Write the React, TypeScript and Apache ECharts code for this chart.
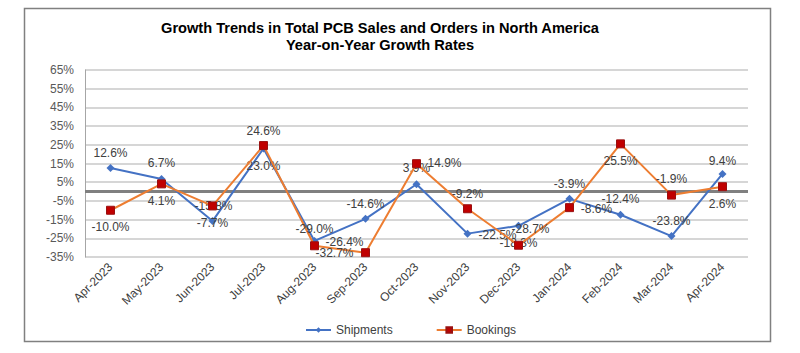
import React, { useEffect, useRef } from "react";
import * as echarts from "echarts";

const categories = [
  "Apr-2023", "May-2023", "Jun-2023", "Jul-2023", "Aug-2023", "Sep-2023", "Oct-2023",
  "Nov-2023", "Dec-2023", "Jan-2024", "Feb-2024", "Mar-2024", "Apr-2024",
];
const shipments = [12.6, 6.7, -15.8, 23.0, -26.4, -14.6, 3.9, -22.5, -18.3, -3.9, -12.4, -23.8, 9.4];
const bookings = [-10.0, 4.1, -7.7, 24.6, -29.0, -32.7, 14.9, -9.2, -28.7, -8.6, 25.5, -1.9, 2.6];
const yMin = -35;
const yMax = 65;
const yLabelStep = 10;

const titleLines = ["Growth Trends in Total PCB Sales and Orders in North America", "Year-on-Year Growth Rates"];

// label placement (offsets from each point) — styling only
const shipLabelOffsets = [[0, -15], [0, -16], [1, -15], [0, 17], [30, 1], [0, -15], [0, -16], [30, 1], [0, 17], [0, -15], [0, -16], [0, -15], [0, -13]];
const bookLabelOffsets = [[0, 17], [0, 17], [0, 17], [0, -15], [0, -17], [-31, 0], [28, -1], [0, -15], [12, -16], [27, 1], [0, 17], [0, -16], [0, 17]];

const FONT = "'Liberation Sans', Arial, sans-serif";

export default function App() {
  const ref = useRef<HTMLDivElement>(null);
  useEffect(() => {
    document.body.style.margin = "0";
    const chart = echarts.init(ref.current!, null, { renderer: "svg" });
    const mkData = (vals: number[], offs: number[][]) =>
      vals.map((v, i) => ({
        value: v,
        label: {
          show: true,
          position: "inside",
          offset: offs[i],
          formatter: v.toFixed(1) + "%",
        },
      }));
    chart.setOption({
      animation: false,
      textStyle: { fontFamily: FONT },
      graphic: [
        {
          type: "rect",
          shape: { x: 24.5, y: 8.5, width: 746, height: 333 },
          style: { fill: "none", stroke: "#808080", lineWidth: 1.5 },
          silent: true,
        },
        {
          type: "text",
          x: 380,
          y: 28,
          style: {
            text: titleLines[0],
            textAlign: "center",
            textVerticalAlign: "middle",
            font: `bold 14.6px ${FONT}`,
            fill: "#000",
          },
        },
        {
          type: "text",
          x: 380,
          y: 45,
          style: {
            text: titleLines[1],
            textAlign: "center",
            textVerticalAlign: "middle",
            font: `bold 14.6px ${FONT}`,
            fill: "#000",
          },
        },
      ],
      grid: { left: 85, right: 52, top: 70, bottom: 96, containLabel: false },
      legend: {
        left: 300,
        top: 319,
        itemWidth: 25,
        itemHeight: 7,
        itemGap: 43,
        textStyle: { fontSize: 12, color: "#404040", fontFamily: FONT },
        data: ["Shipments", "Bookings"],
      },
      xAxis: {
        type: "category",
        data: categories,
        boundaryGap: true,
        axisLine: { show: false, onZero: false },
        axisTick: { show: false },
        axisLabel: { rotate: 45, fontSize: 12, color: "#404040", margin: 8, interval: 0, fontFamily: FONT },
        splitLine: { show: false },
      },
      yAxis: {
        type: "value",
        min: yMin,
        max: yMax,
        interval: 5,
        axisLine: { show: true, lineStyle: { color: "#A6A6A6", width: 1 } },
        axisTick: { show: false },
        axisLabel: {
          fontSize: 12,
          color: "#595959",
          margin: 11,
          fontFamily: FONT,
          formatter: (v: number) => (Math.round(v - yMin) % yLabelStep === 0 ? `${Math.round(v)}%` : ""),
        },
        splitLine: { show: true, lineStyle: { color: ["#C8C8C8", "transparent"], width: 1.5 } },
      },
      series: [
        {
          name: "Shipments",
          type: "line",
          data: mkData(shipments, shipLabelOffsets),
          symbol: "diamond",
          symbolSize: 8,
          lineStyle: { color: "#4472C4", width: 2 },
          itemStyle: { color: "#4472C4" },
          label: { color: "#404040", fontSize: 12, fontFamily: FONT },
          z: 3,
          markLine: {
            silent: true,
            symbol: "none",
            label: { show: false },
            lineStyle: { color: "#808080", width: 3, type: "solid" },
            data: [{ yAxis: 0 }],
            z: 1,
          },
        },
        {
          name: "Bookings",
          type: "line",
          data: mkData(bookings, bookLabelOffsets),
          symbol: "rect",
          symbolSize: 8,
          lineStyle: { color: "#ED7D31", width: 2 },
          itemStyle: { color: "#C00000", borderColor: "#9A1010", borderWidth: 1 },
          label: { color: "#404040", fontSize: 12, fontFamily: FONT },
          z: 4,
        },
      ],
    });
    return () => chart.dispose();
  }, []);
  return <div ref={ref} style={{ width: 800, height: 353, position: "absolute", left: 0, top: 0 }} />;
}
